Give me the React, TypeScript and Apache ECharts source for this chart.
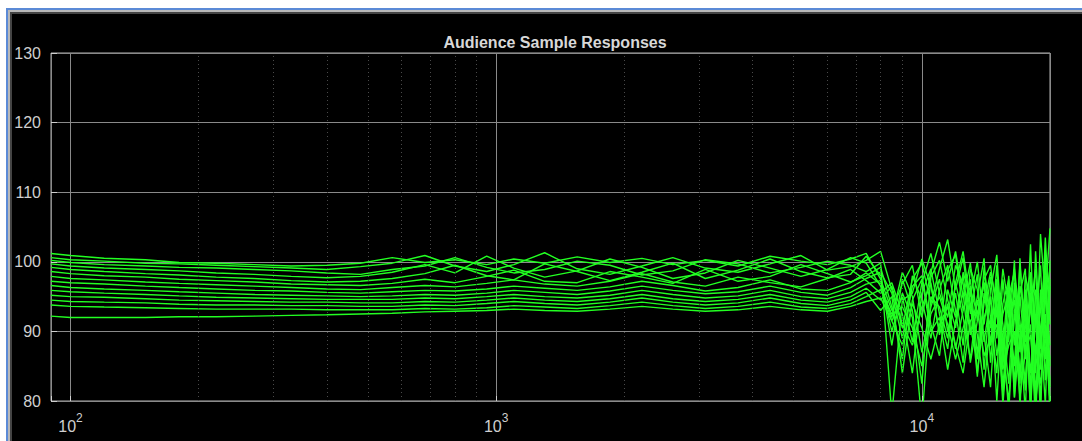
import React, { useEffect, useRef } from "react";
import * as echarts from "echarts";

const TITLE = "Audience Sample Responses";

const FREQ = [
  90, 100, 120, 150, 180, 220, 270, 330, 400, 480,
  570, 680, 800, 950, 1100, 1300, 1550, 1850, 2200, 2600,
  3100, 3700, 4400, 5200, 6000, 6800, 7400, 8000, 8500, 9000,
  9500, 10000, 10500, 11000, 11500, 12000, 12500, 13000, 13500, 14000,
  14500, 15000, 15500, 16000, 16500, 17000, 17500, 18000, 18500, 19000,
  19500, 20000,
];

const S1 = [
  101.2, 100.9, 100.5, 100.3, 99.9, 99.8, 99.6, 99.4, 99.5, 99.8,
  100.6, 99.9, 100.3, 99.6, 100.4, 99.8, 100.7, 99.9, 100.5, 99.6,
  100.2, 99.4, 100.8, 100.1, 99.6, 100.4, 101.2, 97.5, 93.0, 96.8,
  99.5, 92.0, 98.5, 102.8, 97.2, 101.5, 95.0, 99.8, 91.5, 97.0,
  88.0, 99.5, 85.0, 96.5, 82.0, 100.5, 86.0, 102.5, 84.0, 104.0,
  95.0, 104.8,
];
const S2 = [
  100.6, 100.3, 100.1, 99.8, 99.7, 99.5, 99.3, 99.1, 98.9, 99.3,
  99.8, 100.9, 99.4, 98.6, 99.6, 101.3, 99.0, 98.2, 99.4, 100.6,
  99.1, 98.5, 99.7, 100.9, 98.8, 99.3, 100.2, 101.5, 96.0, 90.5,
  97.5, 99.8, 94.0, 99.0, 103.2, 96.0, 100.6, 92.5, 98.2, 84.5,
  96.0, 101.0, 87.5, 98.0, 80.5, 95.5, 99.0, 81.0, 101.5, 88.0,
  103.5, 91.0,
];
const S3 = [
  100.2, 99.9, 99.6, 99.4, 99.2, 99.1, 98.9, 98.7, 98.4, 98.2,
  98.9, 99.4, 100.6, 99.2, 98.4, 98.9, 100.1, 99.5, 98.1, 98.7,
  100.3, 99.7, 98.4, 99.2, 100.1, 99.5, 98.6, 99.8, 78.0, 94.5,
  95.5, 100.4, 96.5, 90.0, 98.8, 101.0, 93.0, 97.5, 86.5, 99.2,
  92.0, 84.0, 97.5, 88.5, 100.2, 79.0, 94.5, 98.5, 79.5, 96.0,
  86.0, 100.2,
];
const S4 = [
  99.7, 99.4, 99.1, 98.9, 98.7, 98.4, 98.2, 97.9, 97.7, 97.9,
  98.5, 99.6, 98.4, 100.8, 99.1, 97.8, 98.7, 100.4, 99.2, 97.6,
  98.4, 100.2, 99.1, 97.9, 98.9, 100.6, 99.8, 96.5, 91.5, 95.0,
  88.5, 97.0, 101.2, 95.5, 92.0, 99.5, 96.8, 89.5, 95.0, 100.5,
  85.5, 96.5, 91.0, 82.5, 97.0, 90.0, 78.5, 97.5, 92.0, 78.0,
  98.0, 82.0,
];
const S5 = [
  99.2, 98.9, 98.6, 98.3, 98.1, 97.8, 97.6, 97.3, 97.1, 97.2,
  97.6, 98.3, 99.5, 98.0, 97.4, 99.7, 98.6, 97.3, 98.5, 99.8,
  97.6, 98.8, 100.4, 98.6, 97.7, 98.2, 100.8, 98.0, 88.0, 97.5,
  93.0, 82.5, 97.8, 100.2, 94.5, 90.5, 98.5, 95.0, 100.0, 91.0,
  97.8, 89.0, 99.0, 93.5, 85.0, 99.8, 88.5, 93.0, 99.0, 84.5,
  101.5, 79.0,
];
const S6 = [
  98.6, 98.3, 98.0, 97.8, 97.5, 97.3, 97.1, 96.8, 96.7, 96.6,
  96.9, 97.5, 97.0, 97.9, 98.8, 97.2, 97.0, 98.6, 97.8, 96.9,
  98.9, 97.2, 97.9, 99.6, 98.3, 97.1, 98.0, 99.2, 93.5, 86.0,
  98.0, 94.5, 89.0, 96.0, 99.5, 93.0, 85.5, 96.0, 92.5, 97.5,
  99.5, 92.5, 86.0, 95.0, 98.5, 87.0, 96.0, 84.0, 91.5, 99.5,
  83.0, 96.5,
];
const S7 = [
  97.9, 97.6, 97.4, 97.1, 96.9, 96.7, 96.5, 96.3, 96.1, 96.0,
  96.3, 96.6, 96.4, 96.9, 97.4, 96.8, 96.5, 97.2, 98.3, 97.1,
  96.5, 97.8, 97.0, 96.4, 97.6, 98.9, 97.3, 95.5, 97.0, 92.5,
  84.0, 95.5, 99.0, 92.5, 87.5, 97.0, 101.5, 94.0, 83.5, 95.5,
  90.5, 97.5, 82.0, 93.0, 99.0, 91.5, 81.5, 97.0, 95.0, 80.0,
  94.0, 99.0,
];
const S8 = [
  97.2, 97.0, 96.8, 96.5, 96.3, 96.1, 95.9, 95.8, 95.6, 95.5,
  95.7, 95.9, 95.8, 96.1, 96.5, 96.2, 95.9, 96.4, 97.2, 96.6,
  95.8, 96.3, 97.4, 96.1, 95.9, 97.0, 98.4, 96.8, 92.0, 98.5,
  95.0, 87.0, 93.5, 97.5, 90.0, 95.5, 88.0, 99.0, 96.0, 88.5,
  95.0, 80.0, 94.0, 97.5, 88.0, 96.5, 92.5, 79.0, 96.0, 90.5,
  79.5, 97.5,
];
const S9 = [
  96.6, 96.3, 96.1, 95.9, 95.7, 95.5, 95.3, 95.2, 95.1, 95.0,
  95.1, 95.3, 95.2, 95.5, 95.9, 95.6, 95.3, 95.8, 96.5, 95.9,
  95.4, 95.7, 96.5, 95.6, 95.2, 96.3, 97.6, 98.5, 95.5, 89.0,
  96.5, 98.0, 91.0, 86.5, 96.0, 92.0, 98.0, 90.5, 86.0, 94.0,
  98.5, 94.0, 79.5, 90.0, 96.0, 82.5, 98.0, 94.5, 87.0, 93.0,
  99.5, 85.0,
];
const S10 = [
  95.9, 95.7, 95.5, 95.3, 95.1, 94.9, 94.8, 94.7, 94.6, 94.6,
  94.6, 94.8, 94.7, 95.0, 95.3, 95.0, 94.8, 95.2, 95.9, 95.3,
  94.8, 95.1, 95.9, 95.0, 94.7, 95.6, 96.8, 97.3, 90.0, 95.5,
  92.0, 77.0, 95.0, 93.5, 89.0, 97.0, 92.0, 86.0, 94.5, 89.5,
  82.0, 95.5, 89.0, 78.5, 93.0, 95.0, 86.5, 91.0, 77.0, 95.5,
  90.0, 80.0,
];
const S11 = [
  95.2, 95.0, 94.9, 94.7, 94.5, 94.4, 94.3, 94.2, 94.2, 94.1,
  94.1, 94.3, 94.2, 94.5, 94.8, 94.5, 94.3, 94.7, 95.3, 94.7,
  94.3, 94.6, 95.3, 94.5, 94.2, 95.0, 96.2, 94.5, 96.5, 91.0,
  88.0, 93.5, 97.0, 89.5, 94.0, 87.5, 93.0, 96.5, 84.0, 92.0,
  95.0, 86.5, 92.5, 95.5, 80.5, 89.5, 94.0, 78.5, 92.5, 87.5,
  96.0, 88.0,
];
const S12 = [
  94.5, 94.3, 94.2, 94.1, 93.9, 93.8, 93.8, 93.7, 93.7, 93.6,
  93.6, 93.8, 93.7, 94.0, 94.3, 94.0, 93.8, 94.2, 94.8, 94.2,
  93.8, 94.1, 94.8, 94.0, 93.7, 94.5, 95.6, 93.0, 95.0, 84.0,
  94.5, 97.5, 90.0, 92.0, 84.5, 91.5, 95.5, 85.5, 91.5, 97.0,
  88.0, 93.0, 81.0, 91.0, 94.5, 84.0, 90.5, 95.5, 81.5, 88.5,
  92.5, 78.0,
];
const S13 = [
  93.8, 93.6, 93.5, 93.4, 93.3, 93.2, 93.2, 93.2, 93.1, 93.1,
  93.1, 93.3, 93.2, 93.4, 93.7, 93.5, 93.3, 93.7, 94.2, 93.7,
  93.3, 93.6, 94.2, 93.5, 93.3, 94.0, 95.0, 96.0, 92.5, 93.5,
  90.5, 85.0, 92.5, 95.0, 91.0, 86.0, 90.5, 94.0, 89.5, 82.0,
  91.5, 94.0, 87.0, 80.0, 92.5, 88.5, 83.0, 94.0, 86.5, 82.5,
  91.0, 86.0,
];
const S14 = [
  92.2, 92.0, 92.0, 92.0, 92.1, 92.1, 92.2, 92.3, 92.4, 92.5,
  92.6, 92.8, 92.9, 93.0, 93.2, 93.0, 92.9, 93.2, 93.6, 93.2,
  92.9, 93.1, 93.6, 93.1, 92.9, 93.6, 94.3, 94.8, 91.5, 88.0,
  94.0, 90.5, 86.0, 91.0, 93.5, 88.0, 84.0, 91.5, 93.0, 86.5,
  89.0, 91.0, 84.5, 88.0, 90.0, 80.5, 87.0, 89.5, 80.0, 86.0,
  89.0, 83.0,
];

const RESPONSES = [S1, S2, S3, S4, S5, S6, S7, S8, S9, S10, S11, S12, S13, S14];

const X_MIN = 90;
const X_MAX = 20000;
const Y_MIN = 80;
const Y_MAX = 130;
const Y_STEP = 10;
const X_MAJOR = [100, 1000, 10000];
const X_EXPONENTS = ["2", "3", "4"];
const X_MINOR = [
  200, 300, 400, 500, 600, 700, 800, 900,
  2000, 3000, 4000, 5000, 6000, 7000, 8000, 9000,
];

export default function App() {
  const ref = useRef<HTMLDivElement>(null);

  useEffect(() => {
    if (!ref.current) return;
    const chart = echarts.init(ref.current, undefined, { renderer: "svg" });

    const lineSeries = RESPONSES.map((vals, k) => ({
      type: "line",
      name: "r" + (k + 1),
      data: FREQ.map((f, i) => [f, vals[i]]),
      symbol: "none",
      clip: true,
      lineStyle: { color: "#22ff22", width: 1.4 },
      z: 3,
    }));

    const minorSeries = {
      type: "line",
      name: "minor",
      data: [],
      silent: true,
      z: 1,
      markLine: {
        silent: true,
        symbol: "none",
        label: { show: false },
        lineStyle: { color: "#4a4a4a", type: [1, 3], width: 1 },
        data: X_MINOR.map((v) => ({ xAxis: v })),
      },
    };

    chart.setOption({
      animation: false,
      backgroundColor: "#000000",
      title: {
        text: TITLE,
        left: 550,
        top: 29,
        textAlign: "center",
        textStyle: {
          color: "#d8d8d8",
          fontSize: 16,
          fontWeight: "bold",
          fontFamily: "Liberation Sans, Arial, sans-serif",
        },
      },
      grid: {
        left: 51,
        top: 53,
        right: 32,
        bottom: 40,
        show: true,
        borderColor: "#b0b0b0",
        borderWidth: 1,
        backgroundColor: "transparent",
      },
      xAxis: {
        type: "log",
        logBase: 10,
        min: X_MIN,
        max: X_MAX,
        axisLine: { show: false },
        axisTick: { show: true, inside: true, length: 5, lineStyle: { color: "#cfcfcf" } },
        splitLine: { show: true, lineStyle: { color: "#8a8a8a", width: 1 } },
        axisLabel: {
          margin: 11,
          color: "#cfcfcf",
          formatter: (v: number) => {
            for (let i = 0; i < X_MAJOR.length; i++) {
              if (Math.abs(v - X_MAJOR[i]) < 1e-6 * X_MAJOR[i]) {
                return "{b|10}{s|" + X_EXPONENTS[i] + "}";
              }
            }
            return "";
          },
          rich: {
            b: {
              fontSize: 16,
              color: "#cfcfcf",
              fontFamily: "Liberation Sans, Arial, sans-serif",
              verticalAlign: "bottom",
              lineHeight: 22,
            },
            s: {
              fontSize: 12,
              color: "#cfcfcf",
              fontFamily: "Liberation Sans, Arial, sans-serif",
              verticalAlign: "top",
              lineHeight: 22,
            },
          },
        },
      },
      yAxis: {
        type: "value",
        min: Y_MIN,
        max: Y_MAX,
        interval: Y_STEP,
        axisLine: { show: false },
        axisTick: { show: true, inside: true, length: 6, lineStyle: { color: "#cfcfcf" } },
        splitLine: { show: true, lineStyle: { color: "#8a8a8a", width: 1 } },
        axisLabel: {
          margin: 10,
          color: "#cfcfcf",
          fontSize: 16,
          fontFamily: "Liberation Sans, Arial, sans-serif",
        },
      },
      graphic: [
        { type: "rect", shape: { x: 0, y: 0, width: 1082, height: 8 }, style: { fill: "#ffffff" }, silent: true },
        { type: "rect", shape: { x: 0, y: 0, width: 6, height: 441 }, style: { fill: "#ffffff" }, silent: true },
        { type: "rect", shape: { x: 6, y: 8, width: 1076, height: 2 }, style: { fill: "#5b8ad6" }, silent: true },
        { type: "rect", shape: { x: 6, y: 8, width: 2, height: 433 }, style: { fill: "#5b8ad6" }, silent: true },
        { type: "rect", shape: { x: 8, y: 10, width: 1074, height: 2 }, style: { fill: "#b8b8b8" }, silent: true },
        { type: "rect", shape: { x: 8, y: 10, width: 2, height: 431 }, style: { fill: "#b8b8b8" }, silent: true },
        { type: "rect", shape: { x: 10, y: 12, width: 1072, height: 2 }, style: { fill: "#444444" }, silent: true },
        { type: "rect", shape: { x: 10, y: 12, width: 2, height: 429 }, style: { fill: "#444444" }, silent: true },
      ],
      series: [minorSeries, ...lineSeries],
    });

    return () => chart.dispose();
  }, []);

  return (
    <div
      ref={ref}
      style={{ position: "absolute", left: 0, top: 0, width: 1082, height: 441 }}
    />
  );
}
